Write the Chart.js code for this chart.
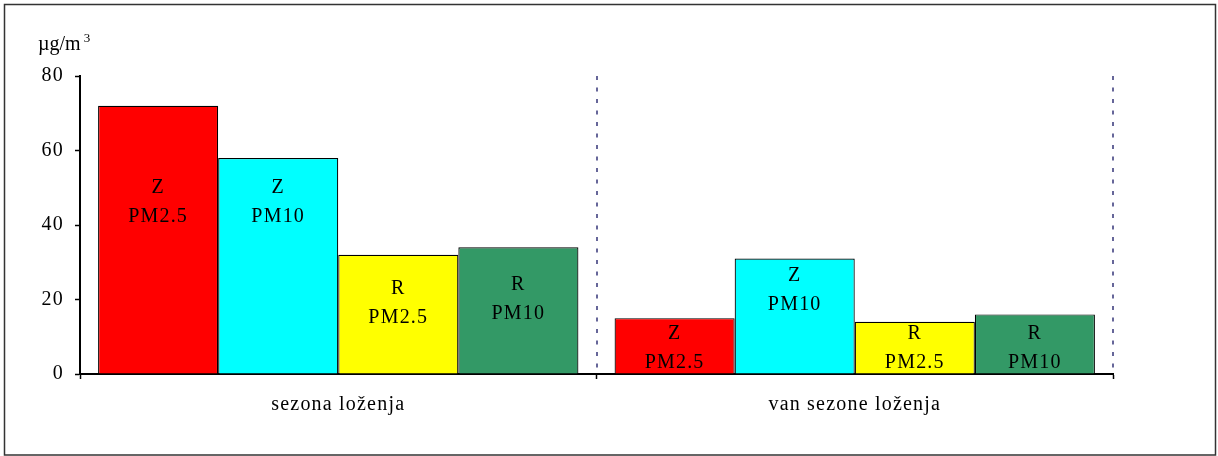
<!DOCTYPE html>
<html lang="sr">
<head>
<meta charset="UTF-8" />
<title>PM koncentracije</title>
<script src="https://cdn.jsdelivr.net/npm/chart.js"></script>
<style>
  html, body { margin: 0; padding: 0; background: #fff; }
  canvas { display: block; }
</style>
</head>
<body>
<canvas id="chart" width="1218" height="456"></canvas>
<script>
const seasons = ["sezona loženja", "van sezone loženja"];
const zPM25 = [72, 15];
const zPM10 = [58, 31];
const rPM25 = [32, 14];
const rPM10 = [34, 16];
const seriesTags = [["Z", "PM2.5"], ["Z", "PM10"], ["R", "PM2.5"], ["R", "PM10"]];
// value (µg/m3) at which the two-line tag inside each bar sits
const tagLevels = [[46, 7], [46, 22.5], [19, 7], [20, 7]];
const unitLabel = "µg/m";
const unitSup = "3";

const FONT = "'Liberation Serif', 'Times New Roman', serif";
const SPACING = "1.2px";

// dotted separators, tags in the bars, unit text and outer frame
const extras = {
  id: "extras",
  beforeUpdate(chart) { chart.ctx.letterSpacing = SPACING; },
  beforeDraw(chart) { chart.ctx.letterSpacing = SPACING; },
  beforeDatasetsDraw(chart) {
    const { ctx, chartArea, scales } = chart;
    const x = scales.x;
    const n = seasons.length;
    ctx.save();
    ctx.strokeStyle = "#666699";
    ctx.lineWidth = 2;
    ctx.setLineDash([4, 7.5]);
    for (let i = 1; i <= n; i++) {
      const px = Math.round(x.left + (x.width / n) * i);
      ctx.beginPath();
      ctx.moveTo(px, chartArea.top);
      ctx.lineTo(px, chartArea.bottom);
      ctx.stroke();
    }
    ctx.restore();
  },
  afterDatasetsDraw(chart) {
    const { ctx, scales } = chart;
    ctx.save();
    ctx.letterSpacing = SPACING;
    ctx.font = "20px " + FONT;
    ctx.fillStyle = "#000";
    ctx.textAlign = "center";
    ctx.textBaseline = "middle";
    chart.data.datasets.forEach((ds, i) => {
      const meta = chart.getDatasetMeta(i);
      meta.data.forEach((bar, j) => {
        const yc = scales.y.getPixelForValue(tagLevels[i][j]);
        ctx.fillText(seriesTags[i][0], bar.x, yc - 14.5);
        ctx.fillText(seriesTags[i][1], bar.x, yc + 14.5);
      });
    });
    ctx.restore();
  },
  afterDraw(chart) {
    const { ctx } = chart;
    ctx.save();
    ctx.letterSpacing = "0px";
    ctx.fillStyle = "#000";
    ctx.textAlign = "left";
    ctx.textBaseline = "alphabetic";
    ctx.font = "20px " + FONT;
    ctx.fillText(unitLabel, 38, 50);
    const w = ctx.measureText(unitLabel).width;
    ctx.font = "13px " + FONT;
    ctx.fillText(unitSup, 38 + w + 3, 42);
    ctx.strokeStyle = "#333";
    ctx.lineWidth = 1.5;
    ctx.strokeRect(4.5, 4.5, 1211, 450.5);
    ctx.restore();
  }
};

const tickFont = { family: FONT, size: 20 };

new Chart(document.getElementById("chart"), {
  type: "bar",
  data: {
    labels: seasons,
    datasets: [
      { label: "Z PM2.5", data: zPM25, backgroundColor: "#ff0000" },
      { label: "Z PM10", data: zPM10, backgroundColor: "#00ffff" },
      { label: "R PM2.5", data: rPM25, backgroundColor: "#ffff00" },
      { label: "R PM10", data: rPM10, backgroundColor: "#339966" }
    ].map(d => Object.assign(d, {
      borderColor: "#000",
      borderWidth: 1.2,
      categoryPercentage: 0.93,
      barPercentage: 1.0
    }))
  },
  options: {
    responsive: false,
    animation: false,
    layout: { padding: { left: 4, top: 76, right: 105, bottom: 20 } },
    plugins: { legend: { display: false }, tooltip: { enabled: false } },
    scales: {
      x: {
        grid: {
          offset: true,
          drawOnChartArea: false,
          tickLength: 5,
          tickColor: "#000",
          tickWidth: 1.5
        },
        border: { color: "#000", width: 2 },
        ticks: { color: "#000", font: tickFont, padding: 14 },
        afterFit(s) { s.height = 62; }
      },
      y: {
        min: 0,
        max: 80,
        grid: {
          drawOnChartArea: false,
          tickLength: 5,
          tickColor: "#000",
          tickWidth: 1.5
        },
        border: { color: "#000", width: 2 },
        ticks: { stepSize: 20, color: "#000", font: tickFont, padding: 11 },
        afterFit(s) { s.width = 76; }
      }
    }
  },
  plugins: [extras]
});
</script>
</body>
</html>
